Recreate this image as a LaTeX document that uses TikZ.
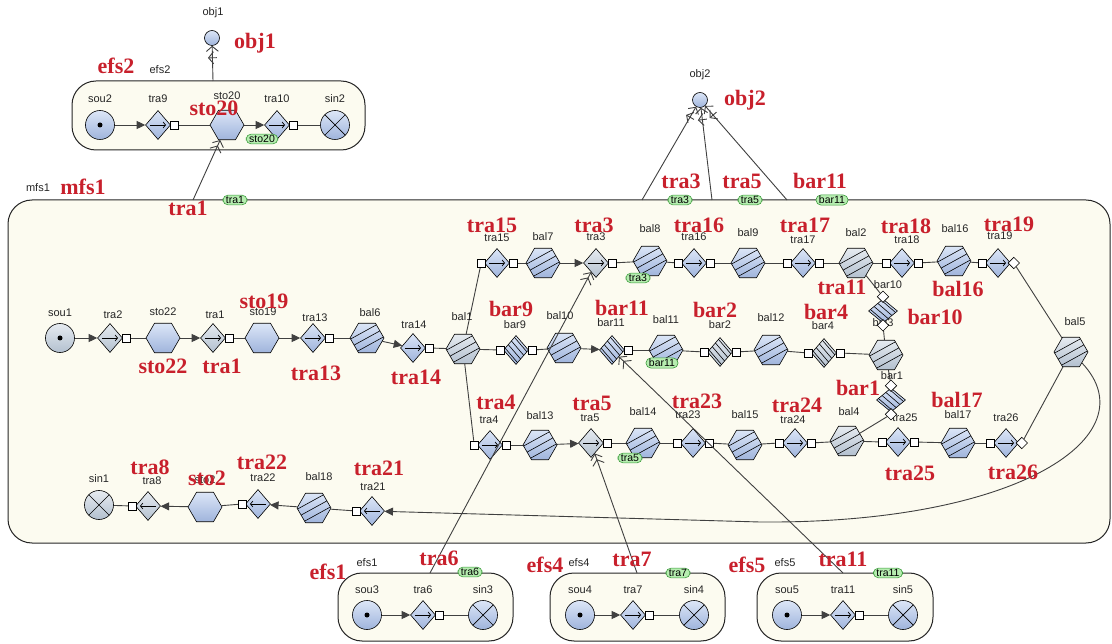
\documentclass[tikz,border=0pt]{standalone}
\usepackage{fontspec}
\setmainfont{Liberation Serif}
\newfontfamily\lsans{Liberation Sans}
\usetikzlibrary{shapes.geometric,arrows.meta,calc,decorations.markings}
\pgfdeclarelayer{boxes}
\pgfdeclarelayer{lines}
\pgfsetlayers{boxes,lines,main}
\definecolor{lc}{HTML}{404040}
\definecolor{redc}{HTML}{C8202C}
\definecolor{cream}{HTML}{FCFBF0}
\definecolor{bt}{HTML}{DCE6F7}
\definecolor{bb}{HTML}{9FB4DC}
\definecolor{gt}{HTML}{E6EBF0}
\definecolor{gb}{HTML}{B3C0CF}
\definecolor{gfill}{HTML}{B6EDB0}
\definecolor{gdraw}{HTML}{3C9C3C}
\tikzset{
  nbase/.style={draw=black, line width=0.6pt, inner sep=0pt, top color=bt, bottom color=bb},
  pale/.style={top color=gt, bottom color=gb},
  trr/.style={nbase, diamond, minimum width=25pt, minimum height=29pt,
    path picture={\draw[line width=0.7pt,-{Straight Barb[length=2.5pt,width=6pt]}] ([xshift=-8pt]path picture bounding box.center) -- ([xshift=8pt]path picture bounding box.center);}},
  trl/.style={nbase, diamond, minimum width=25pt, minimum height=29pt,
    path picture={\draw[line width=0.7pt,-{Straight Barb[length=2.5pt,width=6pt]}] ([xshift=8pt]path picture bounding box.center) -- ([xshift=-8pt]path picture bounding box.center);}},
  barn/.style={nbase, diamond, minimum width=25pt, minimum height=29pt,
    path picture={\foreach \d in {-5,-1.7,1.7,5} \draw[line width=0.6pt] ($(path picture bounding box.center)+({\d pt-12pt},{\d pt+14pt})$) -- ++(24pt,-28pt);}},
  barv/.style={nbase, diamond, minimum width=29pt, minimum height=24pt,
    path picture={\foreach \d in {-5,-1.7,1.7,5} \draw[line width=0.6pt] ($(path picture bounding box.center)+({\d pt-14pt},{\d pt+12pt})$) -- ++(28pt,-24pt);}},
  hexa/.style={nbase, regular polygon, regular polygon sides=6, minimum size=34pt},
  sto/.style={hexa},
  bal/.style={hexa, path picture={\foreach \d in {-8,0,8} \draw[line width=0.6pt] ($(path picture bounding box.center)+(-20pt,{\d pt-11pt})$) -- ++(40pt,22pt);}},
  sou/.style={nbase, circle, minimum size=29pt, path picture={\fill[black] (path picture bounding box.center) circle (2.5pt);}},
  sin/.style={nbase, circle, minimum size=29pt, path picture={
     \draw[line width=0.7pt] ([shift={(-11pt,-11pt)}]path picture bounding box.center) -- ([shift={(11pt,11pt)}]path picture bounding box.center);
     \draw[line width=0.7pt] ([shift={(-11pt,11pt)}]path picture bounding box.center) -- ([shift={(11pt,-11pt)}]path picture bounding box.center);}},
  obj/.style={nbase, circle, minimum size=15pt},
  port/.style={rectangle, draw=black, fill=white, minimum size=8pt, inner sep=0pt, line width=0.6pt},
  lbl/.style={font=\lsans\fontsize{11}{13}\selectfont, inner sep=1pt, text=black!85},
  rd/.style={font=\fontsize{22}{24}\selectfont\bfseries, text=redc, inner sep=0pt},
  tag/.style={draw=gdraw, fill=gfill, rounded corners=5pt, inner xsep=3pt, inner ysep=1.2pt, line width=0.6pt, font=\lsans\fontsize{10.5}{12}\selectfont},
  box/.style={draw=black!85, line width=1pt, fill=cream, rounded corners=24pt, inner sep=0pt},
  ln/.style={draw=lc, line width=0.9pt},
  fa/.style={-{Triangle[length=8.5pt,width=8pt]}},
  dbl/.style={-{Straight Barb[length=5pt,width=12pt] Straight Barb[length=5pt,width=12pt]}},
  oref/.style={-{Straight Barb[length=5pt,width=12pt]}, postaction={decorate},
    decoration={markings, mark=at position -12pt with {\draw[line width=0.9pt, lc] (0,-4.5pt) -- (0,4.5pt);}}}
}
\newcommand\el[6]{\node[#2] (#1) at (#3,#4) {}; \node[lbl] (#1-l) at (#5,#6) {#1};}
\begin{document}
\begin{tikzpicture}[x=1pt,y=-1pt]
\useasboundingbox (0,0) rectangle (1112,644);
\begin{pgfonlayer}{boxes}
\fill[white] (0,0) rectangle (1112,644);
\node[box, minimum width=1102pt, minimum height=343pt] (mfs1) at (559,371.5) {};
\node[box, minimum width=293pt, minimum height=69pt] (efs2) at (218.5,115.5) {};
\node[box, minimum width=175pt, minimum height=68pt] (efs1) at (425.5,607) {};
\node[box, minimum width=175pt, minimum height=68pt] (efs4) at (637.5,607) {};
\node[box, minimum width=176pt, minimum height=68pt] (efs5) at (845,607) {};
\end{pgfonlayer}
% container labels
\node[lbl] (mfs1-l) at (38,188) {mfs1};
\node[lbl] (efs2-l) at (160,70) {efs2};
\node[lbl] (efs1-l) at (367,563) {efs1};
\node[lbl] (efs4-l) at (579,563) {efs4};
\node[lbl] (efs5-l) at (785,563) {efs5};
% efs2
\el{sou2}{sou}{100}{125}{100}{99}
\el{tra9}{trr}{158}{125}{158}{99}
\el{sto20}{sto}{227}{125}{227}{96}
\el{tra10}{trr}{277}{125}{277}{99}
\el{sin2}{sin}{335}{125}{335}{99}
\el{obj1}{obj}{212}{38}{213}{13}
\el{obj2}{obj}{700}{100}{700}{75}
% row A
\el{sou1}{sou,pale}{60}{338}{60}{313}
\el{tra2}{trr,pale}{110}{338}{113}{315}
\el{sto22}{sto}{163}{338}{163}{312}
\el{tra1}{trr,pale}{213}{338}{215}{315}
\el{sto19}{sto}{262}{338}{263}{312}
\el{tra13}{trr}{313}{338}{315}{318}
\el{bal6}{bal}{367}{338}{370}{313}
\el{tra14}{trr}{413}{348}{414}{325}
\el{bal1}{bal,pale}{463}{349}{462}{317}
\el{bar9}{barn}{516}{350}{515}{325}
\el{bal10}{bal}{564}{348}{560}{316}
\el{bar11}{barn}{612}{350}{611}{323}
\el{bal11}{bal}{666}{350}{666}{320}
\el{bar2}{barn,pale}{720}{352}{720}{325}
\el{bal12}{bal}{771}{350}{771}{318}
\el{bar4}{barn,pale}{824}{353}{823}{326}
\el{bal3}{bal,pale}{886}{355}{883}{323}
\el{bar10}{barv}{883}{311}{888}{285}
\el{bar1}{barv}{891}{400}{892}{376}
\el{bal5}{bal,pale}{1071}{352}{1075}{322}
% top row
\el{tra15}{trr}{497}{263}{497}{238}
\el{bal7}{bal}{543}{263}{543}{237}
\el{tra3}{trr,pale}{596}{263}{596}{237}
\el{bal8}{bal}{650}{261}{650}{229}
\el{tra16}{trr}{694}{263}{694}{237}
\el{bal9}{bal}{748}{263}{748}{233}
\el{tra17}{trr}{803}{263}{803}{240}
\el{bal2}{bal,pale}{856}{263}{856}{233}
\el{tra18}{trr}{902}{263}{907}{240}
\el{bal16}{bal}{954}{261}{955}{229}
\el{tra19}{trr}{998}{263}{1000}{236}
% bottom row
\el{tra4}{trr}{490}{445}{489}{420}
\el{bal13}{bal}{540}{445}{540}{416}
\el{tra5}{trr,pale}{591}{443}{590}{418}
\el{bal14}{bal}{643}{443}{643}{412}
\el{tra23}{trr}{693}{443}{688}{415}
\el{bal15}{bal}{745}{445}{745}{415}
\el{tra24}{trr}{795}{443}{793}{420}
\el{bal4}{bal,pale}{847}{441}{849}{412}
\el{tra25}{trr}{898}{442}{905}{418}
\el{bal17}{bal}{958}{443}{958}{415}
\el{tra26}{trr}{1006}{443}{1006}{418}
% bottom-left row
\el{sin1}{sin,pale}{99}{505}{99}{479}
\el{tra8}{trl,pale}{148}{506}{152}{481}
\el{sto2}{sto}{205}{507}{205}{480}
\el{tra22}{trl}{258}{504}{263}{478}
\el{bal18}{bal}{314}{508}{319}{477}
\el{tra21}{trl}{372}{511}{373}{487}
% efs1, efs4, efs5
\el{sou3}{sou}{367}{615}{367}{590}
\el{tra6}{trr}{423}{615}{423}{590}
\el{sin3}{sin}{483}{615}{483}{590}
\el{sou4}{sou}{580}{615}{580}{590}
\el{tra7}{trr}{633}{615}{633}{590}
\el{sin4}{sin}{694}{615}{694}{590}
\el{sou5}{sou}{787}{615}{787}{590}
\el{tra11}{trr}{843}{615}{843}{590}
\el{sin5}{sin}{903}{615}{903}{590}
% output ports (right)
\foreach \n in {tra2,tra1,tra13,tra14,tra15,tra3,tra16,tra17,tra18,tra4,tra5,tra23,tra24,tra25,tra9,tra10,tra6,tra7,tra11,bar9,bar11,bar2,bar4}
  \node[port] (\n o) at ([xshift=3pt]\n.east) {};
\node[port,rotate=45] (tra19o) at ([xshift=3pt]tra19.east) {};
\node[port,rotate=45] (tra26o) at ([xshift=3pt]tra26.east) {};
% input ports (left)
\foreach \n in {tra15,tra16,tra17,tra18,tra19,tra4,tra23,tra24,tra25,tra26,bar9,bar2,bar4}
  \node[port] (\n i) at ([xshift=-3pt]\n.west) {};
% left-facing outputs
\foreach \n in {tra8,tra22,tra21}
  \node[port] (\n o) at ([xshift=-3pt]\n.west) {};
% vertical bars
\node[port,rotate=45] (bar10i) at ([yshift=2pt]bar10.north) {};
\node[port,rotate=45] (bar10o) at ([yshift=-2pt]bar10.south) {};
\node[port,rotate=45] (bar1i) at ([yshift=2pt]bar1.north) {};
\node[port,rotate=45] (bar1o) at ([yshift=-2pt]bar1.south) {};
% border coordinates
\coordinate (e2p) at (213,81);
\coordinate (mp1) at (193,200);
\coordinate (mp2) at (642,200);
\coordinate (mp3) at (712,200);
\coordinate (mp4) at (787,200);
\coordinate (e1p) at (430,573);
\coordinate (e4p) at (637,573);
\coordinate (e5p) at (843,573);
\coordinate (cv) at (760,522);
\begin{pgfonlayer}{lines}
\draw[ln,fa] (sou2) -- (tra9);
\draw[ln] (tra9o) -- (sto20);
\draw[ln,fa] (sto20) -- (tra10);
\draw[ln] (tra10o) -- (sin2);
\draw[ln,fa] (sou3) -- (tra6);
\draw[ln] (tra6o) -- (sin3);
\draw[ln,fa] (sou4) -- (tra7);
\draw[ln] (tra7o) -- (sin4);
\draw[ln,fa] (sou5) -- (tra11);
\draw[ln] (tra11o) -- (sin5);
% row A
\draw[ln,fa] (sou1) -- (tra2);
\draw[ln] (tra2o) -- (sto22);
\draw[ln,fa] (sto22) -- (tra1);
\draw[ln] (tra1o) -- (sto19);
\draw[ln,fa] (sto19) -- (tra13);
\draw[ln] (tra13o) -- (bal6);
\draw[ln,fa] (bal6) -- (tra14);
\draw[ln] (tra14o) -- (bal1);
\draw[ln] (bal1) -- (bar9i);
\draw[ln] (bar9o) -- (bal10);
\draw[ln,fa] (bal10) -- (bar11);
\draw[ln] (bar11o) -- (bal11);
\draw[ln] (bal11) -- (bar2i);
\draw[ln] (bar2o) -- (bal12);
\draw[ln] (bal12) -- (bar4i);
\draw[ln] (bar4o) -- (bal3);
\draw[ln] (bal2) -- (bar10i);
\draw[ln] (bar10o) -- (bal3);
\draw[ln] (bal3) -- (bar1i);
\draw[ln] (bar1o) -- (bal4);
% top row
\draw[ln] (bal1) -- (tra15i);
\draw[ln] (tra15o) -- (bal7);
\draw[ln,fa] (bal7) -- (tra3);
\draw[ln] (tra3o) -- (bal8);
\draw[ln] (bal8) -- (tra16i);
\draw[ln] (tra16o) -- (bal9);
\draw[ln] (bal9) -- (tra17i);
\draw[ln] (tra17o) -- (bal2);
\draw[ln] (bal2) -- (tra18i);
\draw[ln] (tra18o) -- (bal16);
\draw[ln] (bal16) -- (tra19i);
\draw[ln] (tra19o) -- (bal5);
% bottom row
\draw[ln] (bal1) -- (tra4i);
\draw[ln] (tra4o) -- (bal13);
\draw[ln,fa] (bal13) -- (tra5);
\draw[ln] (tra5o) -- (bal14);
\draw[ln] (bal14) -- (tra23i);
\draw[ln] (tra23o) -- (bal15);
\draw[ln] (bal15) -- (tra24i);
\draw[ln] (tra24o) -- (bal4);
\draw[ln] (bal4) -- (tra25i);
\draw[ln] (tra25o) -- (bal17);
\draw[ln] (bal17) -- (tra26i);
\draw[ln] (tra26o) -- (bal5);
% return curve and bottom-left row
\draw[ln,fa] (bal5.-45) .. controls (1150,435) and (1020,524) .. (cv) -- (tra21);
\draw[ln] (tra21o) -- (bal18);
\draw[ln,fa] (bal18) -- (tra22);
\draw[ln] (tra22o) -- (sto2);
\draw[ln,fa] (sto2) -- (tra8);
\draw[ln] (tra8o) -- (sin1);
\end{pgfonlayer}
% cross references
\draw[ln,oref] (e2p) -- (obj1);
\draw[ln,dbl] (mp1) -- (sto20);
\draw[ln,oref] (mp2) -- (obj2);
\draw[ln,oref] (mp3) -- (obj2);
\draw[ln,oref] (mp4) -- (obj2);
\draw[ln,dbl] (e1p) -- (tra3);
\draw[ln,dbl] (e4p) -- (tra5);
\draw[ln,dbl] (e5p) -- (bar11);
% green tags
\node[tag] (g-sto20) at (262,139) {sto20};
\node[tag] (g-tra1) at (235,200) {tra1};
\node[tag] (g-tra3a) at (680,200) {tra3};
\node[tag] (g-tra5a) at (750,200) {tra5};
\node[tag] (g-bar11a) at (832,200) {bar11};
\node[tag] (g-tra3b) at (638,278) {tra3};
\node[tag] (g-bar11b) at (662,363) {bar11};
\node[tag] (g-tra5b) at (630,458) {tra5};
\node[tag] (g-tra6) at (470,572) {tra6};
\node[tag] (g-tra7) at (678,573) {tra7};
\node[tag] (g-tra11) at (888,573) {tra11};
% red annotations
\node[rd] (r1) at (255,43) {obj1};
\node[rd] (r2) at (116,66) {efs2};
\node[rd] (r3) at (214,108) {sto20};
\node[rd] (r4) at (83,187) {mfs1};
\node[rd] (r5) at (188,208) {tra1};
\node[rd] (r6) at (745,100) {obj2};
\node[rd] (r7) at (681,181) {tra3};
\node[rd] (r8) at (742,181) {tra5};
\node[rd] (r9) at (820,181) {bar11};
\node[rd] (r10) at (492,225) {tra15};
\node[rd] (r11) at (594,225) {tra3};
\node[rd] (r12) at (699,225) {tra16};
\node[rd] (r13) at (805,225) {tra17};
\node[rd] (r14) at (906,226) {tra18};
\node[rd] (r15) at (1009,224) {tra19};
\node[rd] (r16) at (842,287) {tra11};
\node[rd] (r17) at (958,289) {bal16};
\node[rd] (r18) at (264,301) {sto19};
\node[rd] (r19) at (511,309) {bar9};
\node[rd] (r20) at (622,308) {bar11};
\node[rd] (r21) at (715,310) {bar2};
\node[rd] (r22) at (826,312) {bar4};
\node[rd] (r23) at (935,317) {bar10};
\node[rd] (r24) at (163,366) {sto22};
\node[rd] (r25) at (222,366) {tra1};
\node[rd] (r26) at (316,373) {tra13};
\node[rd] (r27) at (416,377) {tra14};
\node[rd] (r28) at (858,388) {bar1};
\node[rd] (r29) at (496,402) {tra4};
\node[rd] (r30) at (592,403) {tra5};
\node[rd] (r31) at (697,401) {tra23};
\node[rd] (r32) at (797,405) {tra24};
\node[rd] (r33) at (957,400) {bal17};
\node[rd] (r34) at (910,473) {tra25};
\node[rd] (r35) at (1013,472) {tra26};
\node[rd] (r36) at (150,467) {tra8};
\node[rd] (r37) at (207,478) {sto2};
\node[rd] (r38) at (262,462) {tra22};
\node[rd] (r39) at (379,468) {tra21};
\node[rd] (r40) at (328,572) {efs1};
\node[rd] (r41) at (439,558) {tra6};
\node[rd] (r42) at (545,565) {efs4};
\node[rd] (r43) at (632,559) {tra7};
\node[rd] (r44) at (747,565) {efs5};
\node[rd] (r45) at (843,559) {tra11};
\end{tikzpicture}
\end{document}
